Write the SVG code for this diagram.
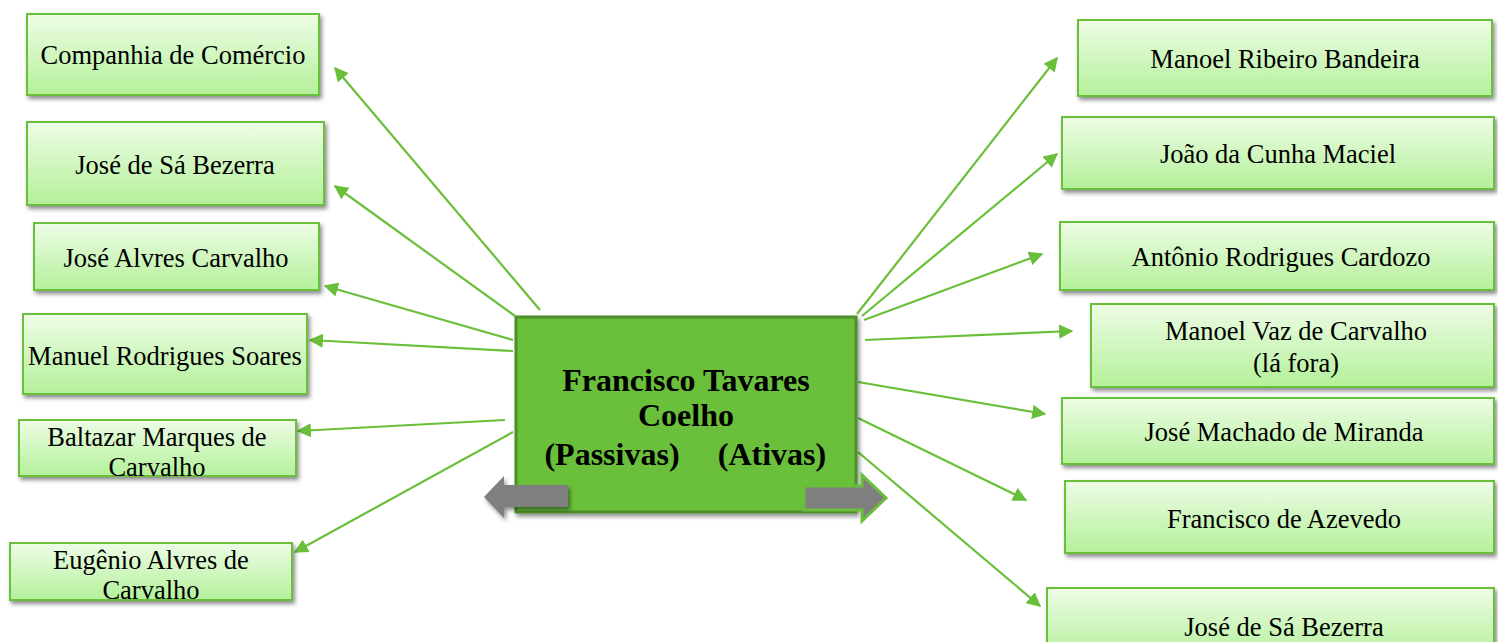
<svg xmlns="http://www.w3.org/2000/svg" width="1498" height="642" viewBox="0 0 1498 642">
<defs>
<linearGradient id="g" x1="0" y1="0" x2="0" y2="1">
<stop offset="0" stop-color="#eefde6"/>
<stop offset="1" stop-color="#b4f09a"/>
</linearGradient>
<filter id="sh" x="-10%" y="-10%" width="120%" height="130%">
<feDropShadow dx="2" dy="3" stdDeviation="2" flood-color="#000" flood-opacity="0.45"/>
</filter>
<marker id="ah" viewBox="0 0 10 10" refX="9" refY="5" markerWidth="6.5" markerHeight="6.5" orient="auto" markerUnits="strokeWidth">
<path d="M0,0 L10,5 L0,10 z" fill="#6abf3a"/>
</marker>
<style>
.box{fill:url(#g);stroke:#6abf3a;stroke-width:2;filter:url(#sh)}
.t{font-family:'Liberation Serif','Times New Roman',serif;font-size:26.5px;fill:#000;text-anchor:middle}
.c{stroke:#6abf3a;stroke-width:2.2;fill:none;marker-end:url(#ah)}
.ct{font-family:'Liberation Serif','Times New Roman',serif;font-size:32px;font-weight:bold;fill:#000;text-anchor:middle}
</style>
</defs>
<g id="connectors">
<line class="c" x1="540" y1="310" x2="335" y2="68"/>
<line class="c" x1="515" y1="316" x2="335" y2="186"/>
<line class="c" x1="513" y1="340" x2="325" y2="286"/>
<line class="c" x1="513" y1="351" x2="310" y2="340"/>
<line class="c" x1="505" y1="420" x2="298" y2="431"/>
<line class="c" x1="513" y1="432" x2="295" y2="552"/>
<line class="c" x1="857" y1="314" x2="1057" y2="58"/>
<line class="c" x1="862" y1="316" x2="1057" y2="154"/>
<line class="c" x1="864" y1="320" x2="1042" y2="254"/>
<line class="c" x1="865" y1="340" x2="1072" y2="331"/>
<line class="c" x1="858" y1="382" x2="1045" y2="414"/>
<line class="c" x1="858" y1="418" x2="1026" y2="500"/>
<line class="c" x1="858" y1="452" x2="1040" y2="606"/>
</g>
<g id="center">
<rect x="516" y="317" width="340" height="195" fill="#6abf3a" stroke="#4f8f2a" stroke-width="3" filter="url(#sh)"/>
<text class="ct" x="686" y="391">Francisco Tavares</text>
<text class="ct" x="686" y="426">Coelho</text>
<text class="ct" x="612" y="465">(Passivas)</text>
<text class="ct" x="772" y="465">(Ativas)</text>
<path d="M568,485 L504,485 L504,476 L484,497 L504,518 L504,507 L568,507 z" fill="#7f7f7f" filter="url(#sh)"/>
<path d="M804,486 L862,486 L862,475 L886,498 L862,521 L862,510 L804,510 z" fill="#7f7f7f" stroke="#6abf3a" stroke-width="3"/>
</g>
<g id="n1"><rect class="box" x="27" y="14" width="292" height="81"/><text class="t" x="173" y="64">Companhia de Comércio</text></g>
<g id="n2"><rect class="box" x="27" y="122" width="297" height="83"/><text class="t" x="175" y="174">José de Sá Bezerra</text></g>
<g id="n3"><rect class="box" x="34" y="223" width="285" height="67"/><text class="t" x="176" y="267">José Alvres Carvalho</text></g>
<g id="n4"><rect class="box" x="23" y="314" width="284" height="80"/><text class="t" x="165" y="365">Manuel Rodrigues Soares</text></g>
<g id="n5"><rect class="box" x="19" y="420" width="277" height="56"/><text class="t" x="157" y="446">Baltazar Marques de</text><text class="t" x="157" y="476">Carvalho</text></g>
<g id="n6"><rect class="box" x="10" y="543" width="282" height="57"/><text class="t" x="151" y="569">Eugênio Alvres de</text><text class="t" x="151" y="599">Carvalho</text></g>
<g id="n7"><rect class="box" x="1078" y="20" width="414" height="76"/><text class="t" x="1285" y="68">Manoel Ribeiro Bandeira</text></g>
<g id="n8"><rect class="box" x="1062" y="117" width="432" height="72"/><text class="t" x="1278" y="163">João da Cunha Maciel</text></g>
<g id="n9"><rect class="box" x="1060" y="222" width="434" height="68"/><text class="t" x="1281" y="266">Antônio Rodrigues Cardozo</text></g>
<g id="n10"><rect class="box" x="1091" y="304" width="403" height="83"/><text class="t" x="1296" y="340">Manoel Vaz de Carvalho</text><text class="t" x="1296" y="372">(lá fora)</text></g>
<g id="n11"><rect class="box" x="1062" y="398" width="432" height="66"/><text class="t" x="1284" y="441">José Machado de Miranda</text></g>
<g id="n12"><rect class="box" x="1065" y="481" width="429" height="72"/><text class="t" x="1284" y="528">Francisco de Azevedo</text></g>
<g id="n13"><rect class="box" x="1047" y="588" width="447" height="70"/><text class="t" x="1284" y="636">José de Sá Bezerra</text></g>
</svg>
